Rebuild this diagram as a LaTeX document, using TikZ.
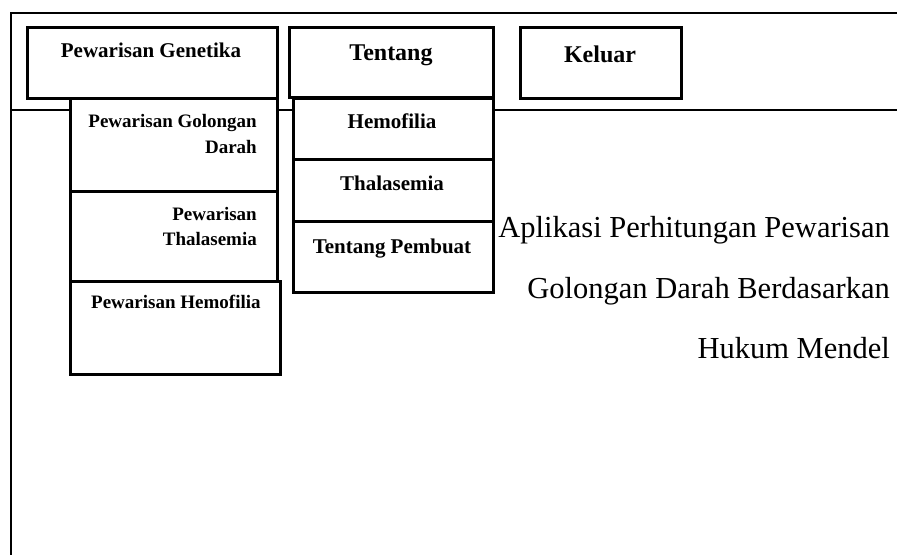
\documentclass[tikz,border=0pt]{standalone}
\usepackage{fontspec}
\setmainfont{Liberation Serif}
\begin{document}
\begin{tikzpicture}[x=1pt,y=-1pt,
  frame/.style={line width=2.4pt},
  box/.style={draw, fill=white, line width=2.8pt, inner sep=0pt, anchor=north west},
  menu/.style={font=\fontsize{21}{25}\selectfont\bfseries, anchor=base, inner sep=0pt},
  submenu/.style={font=\fontsize{19}{25}\selectfont\bfseries, anchor=base east, inner sep=0pt},
  title/.style={font=\fontsize{30.5}{36}\selectfont, anchor=base east, inner sep=0pt}]
\useasboundingbox (0,0) rectangle (897,555);

% window frame and menu bar separator
\coordinate (tl) at (11,13);
\coordinate (tr) at (897,13);
\coordinate (bl) at (11,555);
\coordinate (ml) at (11,110);
\coordinate (mr) at (897,110);
\draw[frame] (tr) -- (tl) -- (bl);
\draw[frame] (ml) -- (mr);

% top menu buttons
\node[box, minimum width=250, minimum height=71] (gen) at (26,26) {};
\node[box, minimum width=204, minimum height=70] (ttg) at (288,26) {};
\node[box, minimum width=161, minimum height=71] (klr) at (519,26) {};
\node[menu] (genT) at (151,57) {Pewarisan Genetika};
\node[menu, font=\fontsize{24}{28}\selectfont\bfseries] (ttgT) at (391,60) {Tentang};
\node[menu, font=\fontsize{24}{28}\selectfont\bfseries] (klrT) at (600,62) {Keluar};

% drop-down of Pewarisan Genetika
\node[box, minimum width=207, minimum height=93] (gd) at (69,97) {};
\node[box, minimum width=207, minimum height=90] (th) at (69,190) {};
\node[box, minimum width=210, minimum height=93] (hm) at (69,280) {};
\node[submenu] (gdA) at (257,127) {Pewarisan Golongan};
\node[submenu] (gdB) at (257,153) {Darah};
\node[submenu] (thA) at (257,220) {Pewarisan};
\node[submenu] (thB) at (257,245) {Thalasemia};
\node[submenu, anchor=base west] (hmA) at (91,308) {Pewarisan Hemofilia};

% drop-down of Tentang
\node[box, minimum width=200, minimum height=61] (hf) at (292,97) {};
\node[box, minimum width=200, minimum height=62] (tl2) at (292,158) {};
\node[box, minimum width=200, minimum height=71] (pb) at (292,220) {};
\node[menu] (hfT) at (392,128) {Hemofilia};
\node[menu] (tlT) at (392,190) {Thalasemia};
\node[menu] (pbT) at (392,253) {Tentang Pembuat};

% application title
\node[title] (t1) at (890,237) {Aplikasi Perhitungan Pewarisan};
\node[title] (t2) at (890,298) {Golongan Darah Berdasarkan};
\node[title] (t3) at (890,358) {Hukum Mendel};
\end{tikzpicture}
\end{document}
